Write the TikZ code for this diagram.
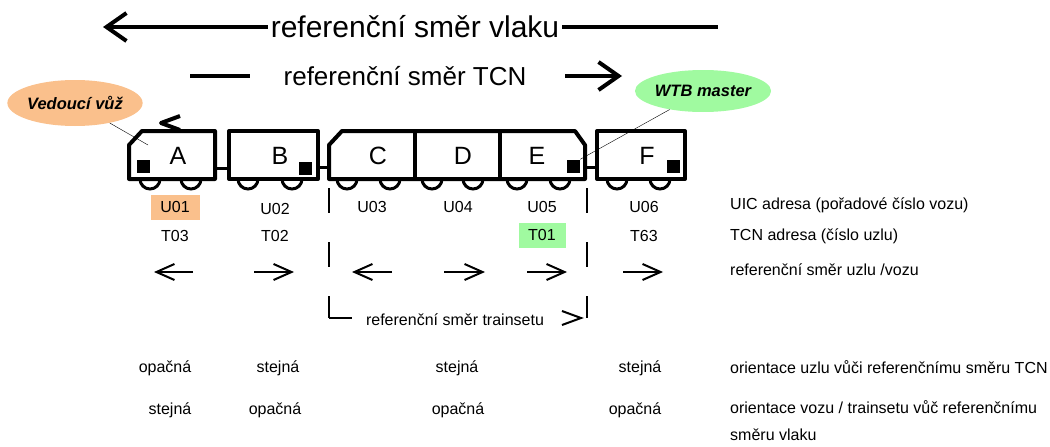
\documentclass[tikz,border=0pt]{standalone}
\usepackage{fontspec}
\setmainfont{Liberation Sans}
\usetikzlibrary{arrows.meta,shapes.geometric}
\definecolor{vedouci}{RGB}{250,192,140}
\definecolor{master}{RGB}{160,250,160}
\begin{document}
\begin{tikzpicture}[x=1pt,y=-1pt,>={Straight Barb[length=18pt,width=16pt]}]
	\tikzstyle{txt}=[inner sep=0pt,font=\fontsize{16}{19}\selectfont]
	\tikzstyle{leg}=[txt,anchor=west]
	\tikzstyle{big}=[line width=4pt]
	\tikzstyle{bighead}=[big,-{Straight Barb[length=20pt,width=28pt]}]
	\tikzstyle{car}=[line width=4pt,line join=round]
	\tikzstyle{carlbl}=[inner sep=0pt,font=\fontsize{25}{29}\selectfont]
	\tikzstyle{wheel}=[line width=3pt]
	\tikzstyle{sq}=[fill=black,minimum size=13pt,inner sep=0pt]
	\tikzstyle{small}=[->,line width=2pt]
	\tikzstyle{trset}=[line width=2pt,dash pattern=on 25pt off 29pt]
	\tikzstyle{bubble}=[ellipse,minimum width=130pt,minimum height=46pt,inner sep=0pt,
		font=\fontsize{16.5}{19}\selectfont\bfseries\itshape]
	\useasboundingbox (0,0) rectangle (1050,447);

	\node[txt,font=\fontsize{30}{35}\selectfont,inner xsep=3pt] (vlak) at (415,27) {referenční směr vlaku};
	\coordinate (vlakL) at (103,27);
	\coordinate (vlakR) at (718,27);
	\draw[bighead] (vlak.west) -- (vlakL);
	\draw[big] (vlak.east) -- (vlakR);

	\node[txt,font=\fontsize{26}{30}\selectfont] (tcn) at (405,76) {referenční směr TCN};
	\draw[big] (190,76) -- (250,76);
	\draw[bighead] (565,76) -- (622,76);

	\node[bubble,fill=vedouci] (ved) at (75,103) {Vedoucí vůž};
	\node[bubble,fill=master,minimum height=42pt] (wtb) at (703,91) {WTB master};
	\draw[line width=4pt,line join=round] (180,116) -- (161,123) -- (180,130);

	\draw[car] (129,145) -- (142,131) -- (215,131) -- (215,179) -- (129,179) -- cycle;
	\draw[car] (229,131) rectangle (318,179);
	\draw[car] (329,145) -- (342,131) -- (575,131) -- (585,145) -- (585,179) -- (329,179) -- cycle;
	\draw[car] (415,131) -- (415,179) (500,131) -- (500,179);
	\draw[car] (597,131) rectangle (685,179);
	\draw[wheel] (215,168) -- (229,168) (318,167) -- (329,167) (585,167) -- (597,167);
	\foreach \w in {150,191,248,292,347,390,432,473,517,560,617,660}
		\draw[wheel] (\w+10,179) arc[start angle=0,end angle=180,radius=10];

	\node[carlbl] (A) at (178,156) {A};
	\node[carlbl] (B) at (280,156) {B};
	\node[carlbl] (C) at (378,156) {C};
	\node[carlbl] (D) at (463,156) {D};
	\node[carlbl] (E) at (537,156) {E};
	\node[carlbl] (F) at (647,156) {F};
	\node[sq] (sqA) at (143.5,166.5) {};
	\node[sq] (sqB) at (305,168) {};
	\node[sq] (sqE) at (573.5,166) {};
	\node[sq] (sqF) at (673.5,166.5) {};
	\coordinate (vedK) at (148,145);
	\draw[thin] (ved) -- (vedK);
	\draw[thin] (wtb) -- (sqE.north east);

	\node[txt,fill=vedouci,minimum width=49pt,minimum height=25pt] (u1) at (175,207) {U01};
	\node[txt] (u2) at (275,209) {U02};
	\node[txt] (u3) at (372,207) {U03};
	\node[txt] (u4) at (458,207) {U04};
	\node[txt] (u5) at (542,207) {U05};
	\node[txt] (u6) at (644,207) {U06};
	\node[txt] (t1) at (175,236) {T03};
	\node[txt] (t2) at (275,236) {T02};
	\node[txt,fill=master,minimum width=47pt,minimum height=25pt] (t5) at (542,235) {T01};
	\node[txt] (t6) at (644,236) {T63};

	\draw[small] (193,272) -- (154,272);
	\draw[small] (254,272) -- (294,272);
	\draw[small] (392,272) -- (352,272);
	\draw[small] (444,272) -- (485,272);
	\draw[small] (527,272) -- (567,272);
	\draw[small] (623,272) -- (663,272);

	\draw[trset] (329,188) -- (329,318);
	\draw[trset] (587,188) -- (587,318);
	\draw[line width=2pt] (329,318) -- (352,318);
	\node[txt] (trs) at (455,320) {referenční směr trainsetu};
	\draw[line width=2pt] (562,311) -- (581,318) -- (562,325);

	\node[txt] (o1) at (165,368) {opačná};
	\node[txt] (o2) at (278,368) {stejná};
	\node[txt] (o3) at (457,368) {stejná};
	\node[txt] (o4) at (640,368) {stejná};
	\node[txt] (v1) at (170,410) {stejná};
	\node[txt] (v2) at (275,410) {opačná};
	\node[txt] (v3) at (458,410) {opačná};
	\node[txt] (v4) at (635,410) {opačná};

	\node[leg] (l1) at (730,205) {UIC adresa (pořadové číslo vozu)};
	\node[leg] (l2) at (730,236) {TCN adresa (číslo uzlu)};
	\node[leg] (l3) at (730,270) {referenční směr uzlu /vozu};
	\node[leg] (l4) at (730,367) {orientace uzlu vůči referenčnímu směru TCN};
	\node[leg] (l5) at (730,407) {orientace vozu / trainsetu vůč referenčnímu};
	\node[leg] (l6) at (730,435) {směru vlaku};
\end{tikzpicture}
\end{document}
